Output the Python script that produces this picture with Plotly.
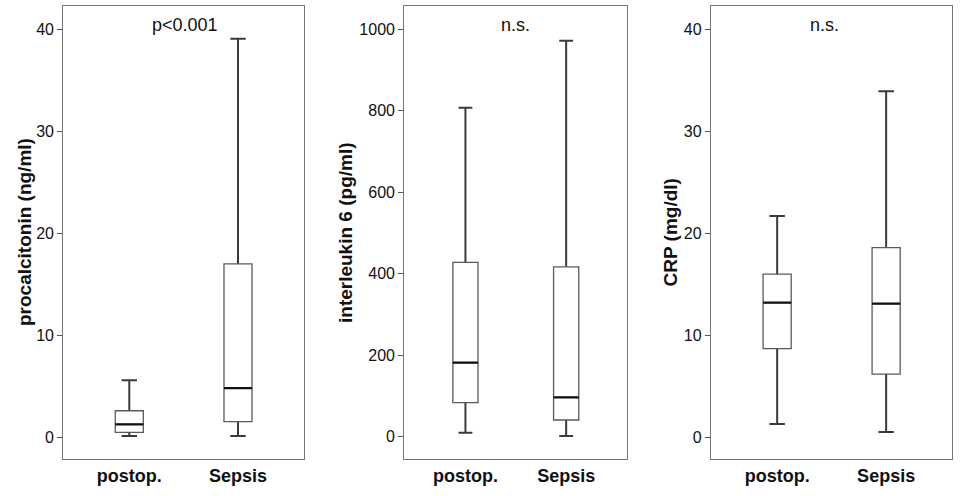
import plotly.graph_objects as go
from plotly.subplots import make_subplots

categories = ["postop.", "Sepsis"]

# procalcitonin (ng/ml)
pct_lower = [0.13, 0.13]
pct_q1 = [0.49, 1.53]
pct_median = [1.27, 4.83]
pct_q3 = [2.6, 17.0]
pct_upper = [5.6, 39.1]

# interleukin 6 (pg/ml)
il6_lower = [9.8, 1.6]
il6_q1 = [83.5, 41.0]
il6_median = [182.0, 96.7]
il6_q3 = [428.0, 417.0]
il6_upper = [807.0, 971.5]

# CRP (mg/dl)
crp_lower = [1.3, 0.52]
crp_q1 = [8.7, 6.2]
crp_median = [13.2, 13.1]
crp_q3 = [16.0, 18.6]
crp_upper = [21.7, 33.95]

titles = ["procalcitonin (ng/ml)", "interleukin 6 (pg/ml)", "CRP (mg/dl)"]
pvalues = ["p<0.001", "n.s.", "n.s."]
ytick_vals = [[0, 10, 20, 30, 40], [0, 200, 400, 600, 800, 1000], [0, 10, 20, 30, 40]]
y_ranges = [[-2.13, 42.3], [-54.7, 1057], [-2.13, 42.3]]

panels = [
    (pct_lower, pct_q1, pct_median, pct_q3, pct_upper),
    (il6_lower, il6_q1, il6_median, il6_q3, il6_upper),
    (crp_lower, crp_q1, crp_median, crp_q3, crp_upper),
]

W, H = 960, 496
x_px = [(63.3, 304.0), (404.3, 627.3), (711.0, 952.3)]
y_top, y_bot = 6.0, 459.0
box_w = [0.258, 0.25, 0.258]
title_x_px = [24.5, 345.5, 670.0]
pval_x_px = [184.5, 515.0, 824.5]

fig = make_subplots(rows=1, cols=3)
xpos = [0, 1]
FONT = "Liberation Sans, Arial"

for i, (lo, q1, med, q3, up) in enumerate(panels):
    col = i + 1
    # whiskers (drawn first, degenerate box hidden behind main box)
    fig.add_trace(go.Box(
        x=xpos, lowerfence=lo, q1=med, median=med, q3=med, upperfence=up,
        width=box_w[i], whiskerwidth=0.55, line=dict(color="#3a3a3a", width=2),
        fillcolor="white", boxpoints=False, hoverinfo="skip", showlegend=False,
    ), row=1, col=col)
    # box body
    fig.add_trace(go.Box(
        x=xpos, lowerfence=q1, q1=q1, median=med, q3=q3, upperfence=q3,
        width=box_w[i], whiskerwidth=0, line=dict(color="#5a5a5a", width=1.3),
        fillcolor="white", boxpoints=False, showlegend=False,
    ), row=1, col=col)
    # thick median line
    fig.add_trace(go.Box(
        x=xpos, lowerfence=med, q1=med, median=med, q3=med, upperfence=med,
        width=box_w[i], whiskerwidth=0, line=dict(color="#111111", width=2.2),
        fillcolor="rgba(0,0,0,0)", boxpoints=False, hoverinfo="skip", showlegend=False,
    ), row=1, col=col)

    xa = "xaxis" if i == 0 else f"xaxis{col}"
    ya = "yaxis" if i == 0 else f"yaxis{col}"
    fig.layout[xa].update(
        domain=[x_px[i][0] / W, x_px[i][1] / W],
        range=[-0.607, 1.607], tickvals=xpos,
        ticktext=[f"<b>{c}</b>" for c in categories],
        ticks="", showgrid=False, zeroline=False,
        showline=True, mirror=True, linecolor="#777777", linewidth=1.3,
        tickfont=dict(family=FONT, size=18, color="#111111"),
    )
    fig.layout[ya].update(
        domain=[1 - y_bot / H, 1 - y_top / H],
        range=y_ranges[i], tickvals=ytick_vals[i],
        ticks="outside", ticklen=5, tickcolor="#555555", tickwidth=1,
        showgrid=False, zeroline=False,
        showline=True, mirror=True, linecolor="#777777", linewidth=1.3,
        tickfont=dict(family=FONT, size=16, color="#111111"),
    )
    fig.add_annotation(
        x=title_x_px[i] / W, y=1 - ((y_top + y_bot) / 2) / H, xref="paper", yref="paper",
        text=f"<b>{titles[i]}</b>", textangle=-90, showarrow=False,
        xanchor="center", yanchor="middle",
        font=dict(family=FONT, size=19, color="#111111"),
    )
    fig.add_annotation(
        x=pval_x_px[i] / W, y=1 - 24.5 / H, xref="paper", yref="paper",
        text=pvalues[i], showarrow=False, xanchor="center", yanchor="middle",
        font=dict(family=FONT, size=18, color="#111111"),
    )

fig.update_layout(
    width=W, height=H, boxmode="overlay",
    margin=dict(l=0, r=0, t=0, b=0),
    paper_bgcolor="white", plot_bgcolor="white",
    font=dict(family=FONT, color="#111111"),
)

fig.write_html("out.html", config={"displayModeBar": False},
               post_script="document.body.style.margin='0px';")
